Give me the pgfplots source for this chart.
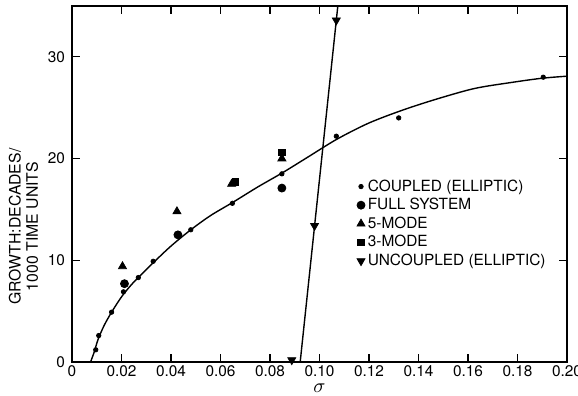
\documentclass[border=0pt]{standalone}
\usepackage{fontspec}
\setmainfont{TeX Gyre Heros}
\usepackage{pgfplots}
\pgfplotsset{compat=1.18}
\begin{document}
\begin{tikzpicture}
\begin{axis}[
  scale only axis,
  width=247.5pt, height=178pt,
  xmin=0, xmax=0.2, ymin=0, ymax=35,
  axis line style={line width=1pt},
  every tick/.style={black, line width=0.6pt},
  major tick length=4pt,
  xtick={0,0.02,0.04,0.06,0.08,0.10,0.12,0.14,0.16,0.18,0.20},
  xticklabels={0,0.02,0.04,0.06,0.08,0.10,0.12,0.14,0.16,0.18,0.20},
  ytick={0,10,20,30},
  yticklabels={0,10,20,30},
  tick label style={font=\fontsize{7.7}{9}\selectfont},
  xticklabel style={yshift=1.5pt},
  /pgf/number format/assume math mode=true,
  xlabel={$\sigma$},
  xlabel style={font=\fontsize{10}{10}\selectfont, at={(rel axis cs:0.5,0)}, anchor=base, yshift=-15pt, inner sep=0pt},
  ylabel={GROWTH:DECADES/\\1000 TIME UNITS},
  ylabel style={align=center, font=\fontsize{7.9}{8.6}\selectfont, at={(ticklabel cs:0.38)}, yshift=-2pt},
  clip mode=individual,
  legend style={draw=none, fill=none, at={(rel axis cs:0.575,0.52)}, anchor=north west,
    font=\fontsize{7.7}{9}\selectfont, inner sep=0pt,
    nodes={text height=5.5pt, text depth=1pt, inner sep=1.4pt}},
  legend cell align=left,
  legend image code/.code={\draw[#1] plot coordinates {(0.1cm,0cm)};},
]
% fitted curve for coupled data
\addplot[black, line width=0.7pt, smooth, forget plot] coordinates {
(0.0075,0) (0.0090,1.0) (0.0105,2.2) (0.013,3.6) (0.016,4.9) (0.020,6.4)
(0.024,7.6) (0.028,8.6) (0.033,9.8) (0.040,11.4) (0.048,13.0) (0.056,14.4)
(0.065,15.7) (0.075,17.2) (0.085,18.6) (0.095,20.1) (0.107,21.9) (0.12,23.5)
(0.134,24.8) (0.148,25.9) (0.1628,26.9) (0.178,27.5) (0.19,27.9) (0.20,28.1)};
% uncoupled line
\addplot[black, line width=0.7pt, forget plot] coordinates {(0.0922,0) (0.1074,35)};
% coupled (elliptic)
\addplot[only marks, mark=*, mark size=1.1pt, black] coordinates {
(0.0096,1.2) (0.0108,2.6) (0.016,4.9) (0.0208,6.9) (0.0268,8.3) (0.0328,9.9)
(0.048,13.0) (0.0648,15.6) (0.0848,18.5) (0.1068,22.2) (0.132,24.0) (0.1904,28.0)};
\addlegendentry{COUPLED (ELLIPTIC)}
% full system
\addplot[only marks, mark=*, mark size=2pt, black] coordinates {
(0.0212,7.7) (0.0428,12.5) (0.0848,17.1)};
\addlegendentry{FULL SYSTEM}
% 5-mode
\addplot[only marks, mark=triangle*, mark size=2.3pt, black] coordinates {
(0.0204,9.4) (0.0424,14.8) (0.0645,17.5) (0.0848,20.0)};
\addlegendentry{5-MODE}
% 3-mode
\addplot[only marks, mark=square*, mark size=1.6pt, black] coordinates {
(0.0660,17.7) (0.0848,20.6)};
\addlegendentry{3-MODE}
% uncoupled (elliptic)
\addplot[only marks, mark=triangle*, mark options={rotate=180}, mark size=2.3pt, black] coordinates {
(0.0888,0.2) (0.098,13.4) (0.1068,33.6)};
\addlegendentry{UNCOUPLED (ELLIPTIC)}
\end{axis}
\pgfresetboundingbox
\path[use as bounding box] ([xshift=-36pt,yshift=-17pt]current axis.south west) rectangle ([xshift=5.5pt,yshift=3pt]current axis.north east);
\end{tikzpicture}
\end{document}
